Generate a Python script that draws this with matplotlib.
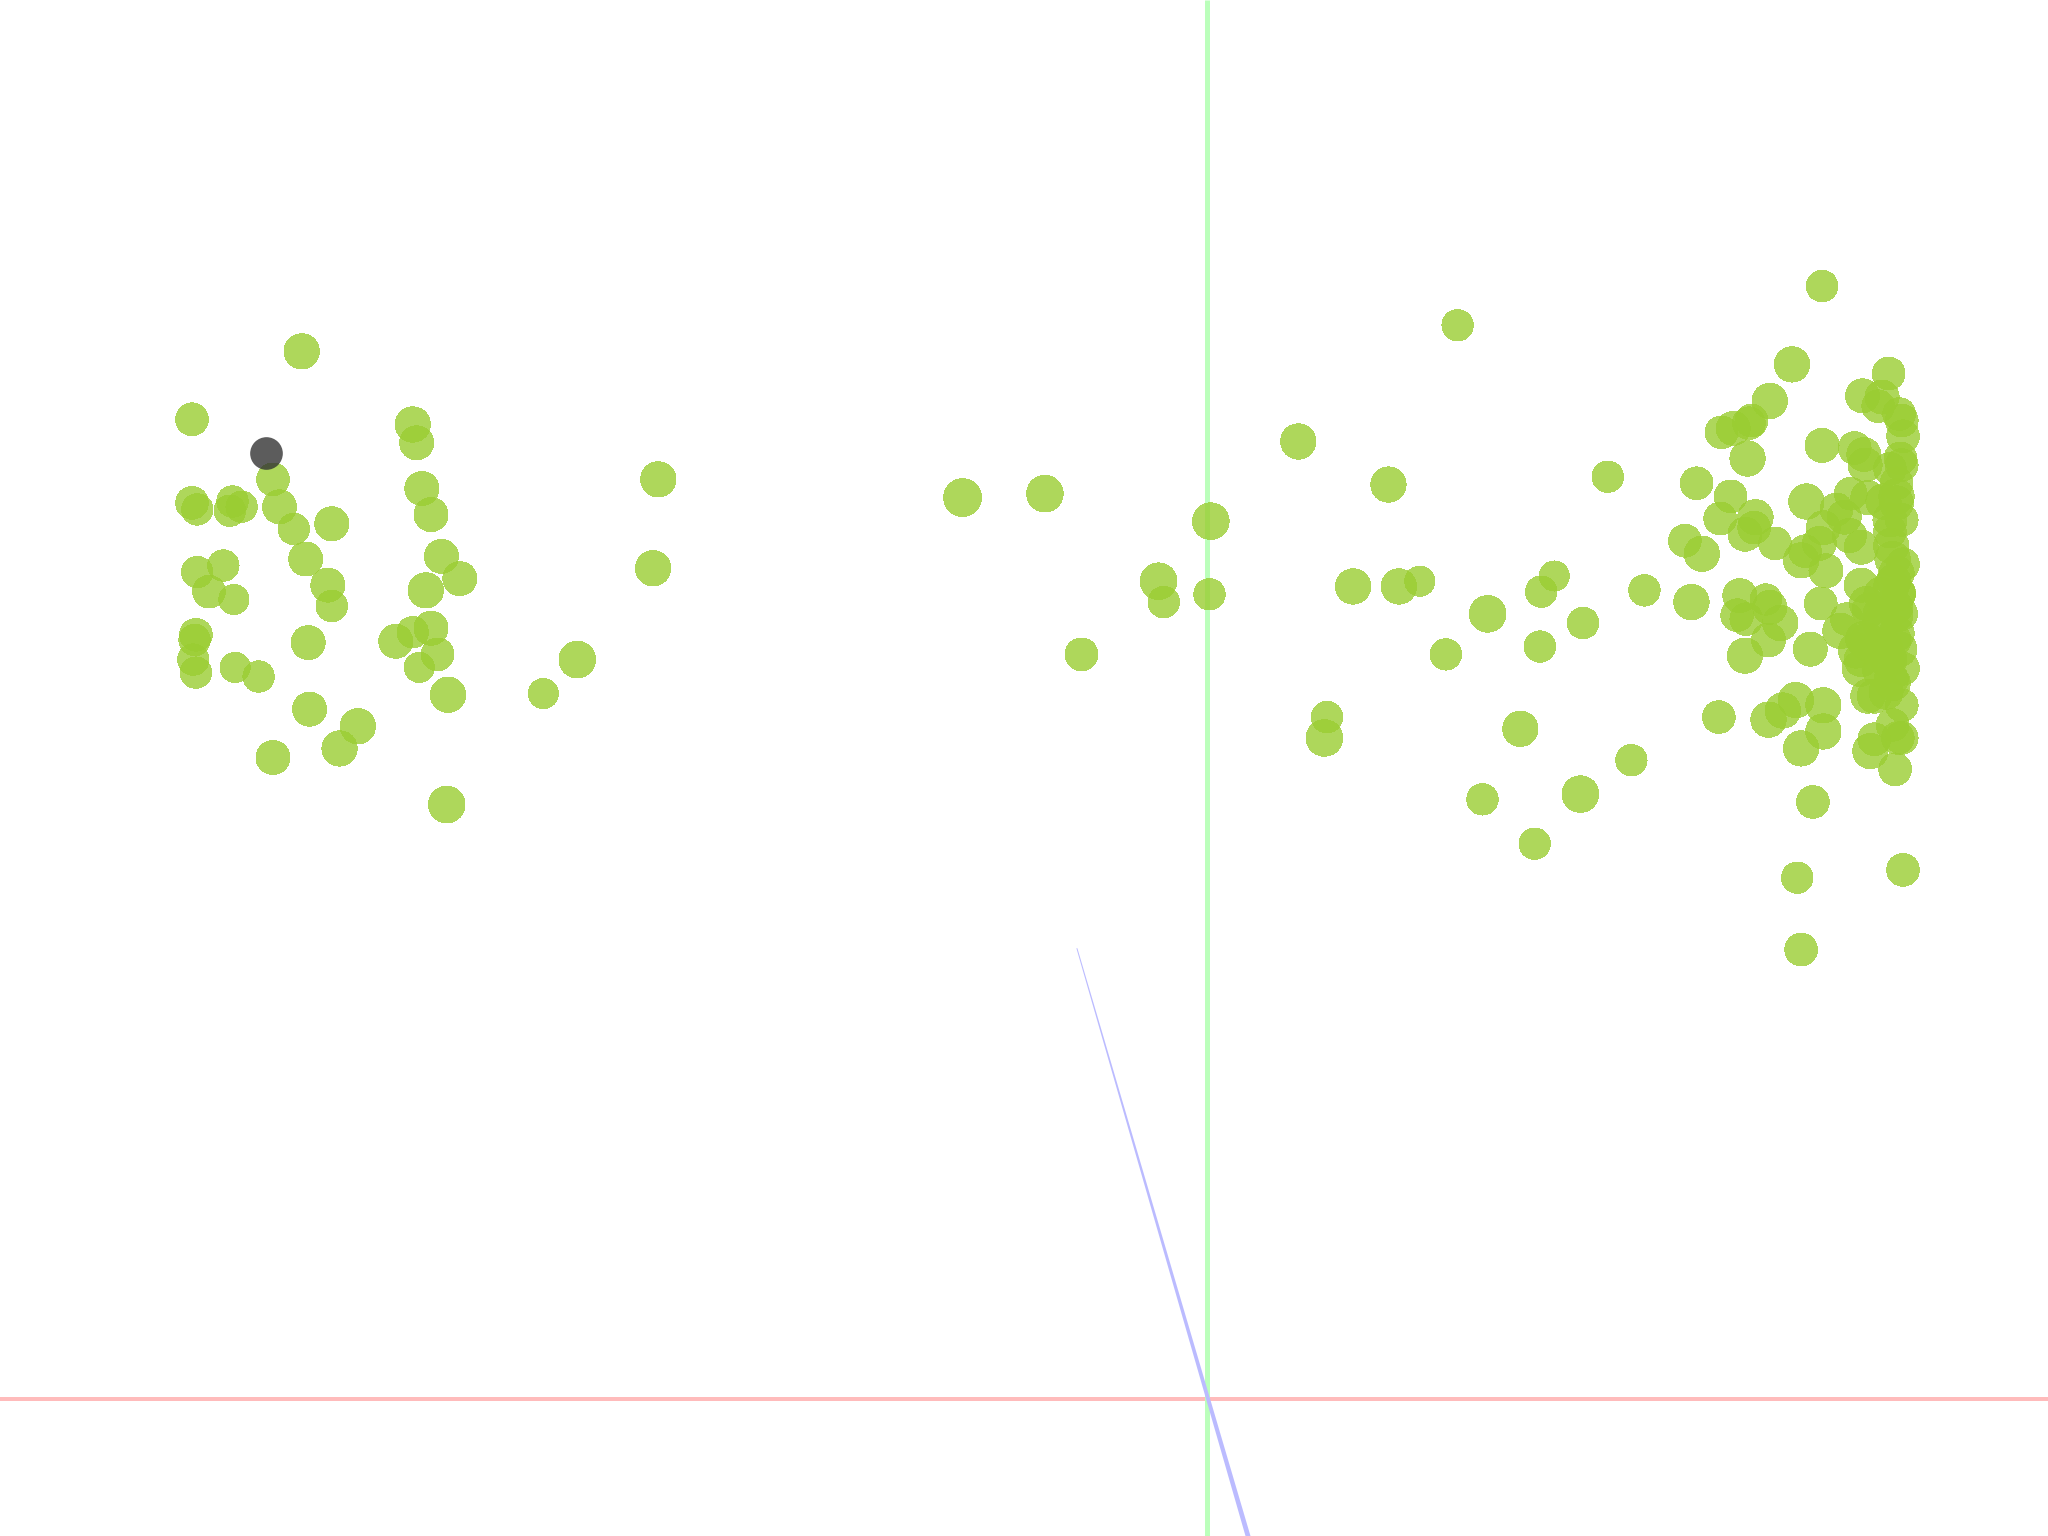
import matplotlib
matplotlib.use("Agg")
import matplotlib.pyplot as plt
import numpy as np

# point values: horizontal, vertical, marker diameter (picture units, 1568 wide)
left_x = [231,147,316,319,209,323,504,147,151,178,176,185,214,330,254,225,338,234,171,151,500,352,251,160,326,179,254,330,316,303,236,150,149,335,148,442,180,150,198,321,416,343,237,274,260,209,342]
left_y = [269,321,325,339,367,374,367,385,390,384,391,388,388,394,401,405,426,428,433,438,435,443,448,453,452,459,464,481,484,491,492,486,490,501,505,505,511,515,518,511,531,532,543,556,573,580,616]
left_d = [27,25,27,26,25,26,27,25,24,24,24,24,26,26,26,24,26,26,24,24,27,26,26,25,27,23,24,26,24,26,26,25,24,25,24,28,23,24,24,23,23,27,26,27,27,26,28]

mid_x = [737,800,927,887,891,926,828,994,1116,1063,1036,1071,1087,1139,1180,1190,1231,1259,1212,1179,1107,1016,1014,1164,1249,1135,1210,1175]
mid_y = [381,378,399,445,461,455,501,338,249,371,449,449,445,470,453,441,365,452,477,495,501,549,565,558,582,612,608,646]
mid_d = [29,28,28,28,24,24,25,27,24,27,27,27,23,28,24,23,24,24,24,24,24,24,28,27,24,24,28,24]

right_x = [1372,1446,1355,1426,1441,1438,1454,1456,1457,1341,1339,1327,1318,1338,1395,1420,1427,1428,1455,1456,1447,1299,1325,1383,1417,1430,1452,1452,1442,1406,1412,1396,1416,1317,1344,1343,1336,1359,1393,1382,1379,1398,1457,1290,1303,1425,1447,1456,1447,1449,1452,1448,1425,1454,
           1295,1332,1330,1337,1352,1355,1363,1354,1336,1386,1394,1414,1409,1431,1429,1452,1454,1452,1439,1426,1421,1429,1424,1454,1450,1445,1457,1439,1449,1430,1435,1444,1456,1449,1396,1375,1365,1354,1396,1379,1316,1435,1453,1456,1432,1451,1388,1457,1376,1379,1395,
           1450,1455,1452,1447,1440,1448,1430,1443,1425,1452,1448,1440]
right_y = [279,286,307,303,304,311,317,322,334,322,324,328,331,351,341,343,348,356,351,356,359,370,380,384,378,381,370,380,384,390,396,404,410,397,396,404,409,416,416,422,429,437,432,414,424,419,407,398,398,428,439,449,448,454,
           461,456,471,474,459,465,477,490,502,497,462,474,483,467,462,471,455,465,477,489,498,493,512,497,490,506,512,513,523,533,533,530,540,555,540,536,544,551,560,573,549,566,565,565,575,589,614,666,672,727,219,
           445,470,485,505,470,520,490,495,505,385,418,455]
right_d = [27,25,27,26,26,25,25,25,25,25,25,26,25,27,26,25,26,26,25,25,25,25,25,27,25,26,25,27,27,25,26,26,26,25,27,25,26,25,26,25,27,26,25,25,27,26,25,25,26,27,27,27,26,25,
           27,26,25,25,24,26,27,26,27,26,25,25,27,26,26,25,25,25,26,26,27,26,27,27,26,26,25,26,27,26,26,26,25,25,27,27,27,27,27,27,25,25,25,25,27,25,25,25,24,25,24,
           26,26,27,26,27,26,26,27,26,26,27,26]

dark_x = [204]
dark_y = [347]
dark_d = [25]

# axis lines
x_axis_x = [0, 1568]
x_axis_y = [1071, 1071]
y_axis_x = [924, 924]
y_axis_y = [0, 1176]
z_axis_x = [824.5, 955.5]
z_axis_y = [726, 1176]
z_axis_w = [1.0, 5.0]  # width in output pixels at each end

W, H = 2048, 1536
fig = plt.figure(figsize=(W / 100, H / 100), dpi=100, facecolor="white")
ax = fig.add_axes([0, 0, 1, 1])
ax.set_xlim(0, 1568)
ax.set_ylim(1176, 0)
ax.axis("off")

px = 72 / 100
ax.plot(x_axis_x, x_axis_y, color="#ffbbbb", lw=4 * px, solid_capstyle="butt", zorder=1)
ax.plot(y_axis_x, y_axis_y, color="#bbffbb", lw=5 * px, solid_capstyle="butt", zorder=2)

# z axis tapers with perspective
n = 40
t = np.linspace(0, 1, n + 1)
zx = np.interp(t, [0, 1], z_axis_x)
zy = np.interp(t, [0, 1], z_axis_y)
zw = np.interp(t, [0, 1], z_axis_w)
half = zw / 2 * (1568 / W)
ax.fill(np.r_[zx - half, (zx + half)[::-1]], np.r_[zy, zy[::-1]],
        color="#bbbbff", lw=0, zorder=3)

k = 1568 / W  # picture units to output pixels


def sizes(d):
    return (np.array(d) / k * px) ** 2


all_x = left_x + mid_x + right_x
all_y = left_y + mid_y + right_y
all_d = left_d + mid_d + right_d
ax.scatter(all_x, all_y, s=sizes(all_d), color="#9acd32", alpha=0.8,
           linewidths=0, antialiased=False, zorder=4)
ax.scatter(dark_x, dark_y, s=sizes(dark_d), color="#333333", alpha=0.8,
           linewidths=0, antialiased=False, zorder=4)

fig.savefig("out.png", dpi=100, facecolor="white")
